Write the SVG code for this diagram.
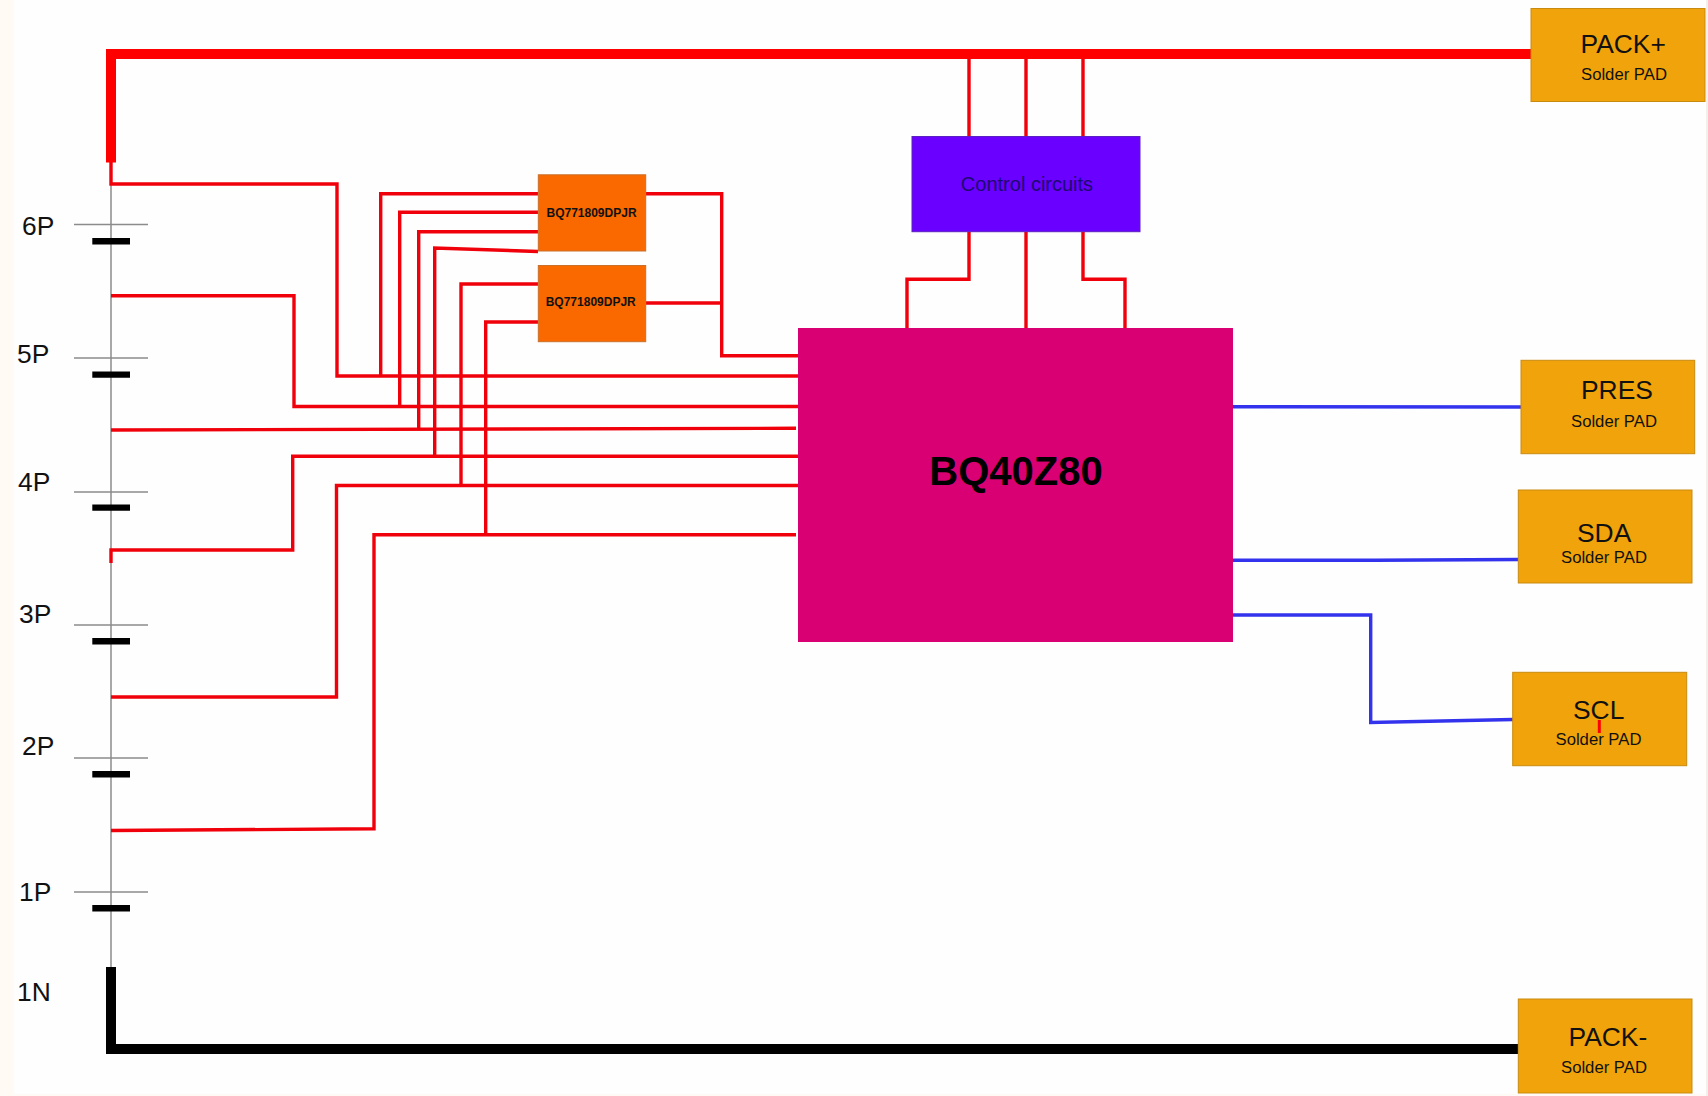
<svg xmlns="http://www.w3.org/2000/svg" width="1708" height="1096" viewBox="0 0 1708 1096">
<style>
text{font-family:"Liberation Sans",Arial,sans-serif;fill:#111}
.w{fill:none;stroke-linejoin:miter;stroke-linecap:butt}
.r{stroke:#f0000a;stroke-width:3.4}
.b{stroke:#3333ee;stroke-width:3.4}
.bus{stroke-width:10}
.cell{stroke:#8c8c8c;stroke-width:1.5;fill:none}
.pad{fill:#f0a30a;stroke:#c98a10;stroke-width:1}
.big{font-size:26.4px}
.sm{font-size:16.7px}
.ic{fill:#fa6800;stroke:#c9702a;stroke-width:1}
.ict{font-size:12px;font-weight:bold}
.lbl{font-size:26.4px}
</style>
<rect width="1708" height="1096" fill="#fefefe"/>
<rect x="0" y="0" width="14" height="1096" fill="#fffaf4"/>
<rect x="1706" y="0" width="2" height="1096" fill="#f5eeea"/>
<rect x="14" y="1094" width="1692" height="2" fill="#fffaf6"/>
<g id="battery">
<path class="cell" d="M111 162V967M74 224.600H148M74 358H148M74 492H148M74 625H148M74 758H148M74 892H148"/>
<path fill="#000" d="M92.300 238H130V244.400H92.300ZM92.300 371.500H130V377.800H92.300ZM92.300 504.500H130V510.800H92.300ZM92.300 638H130V644.500H92.300ZM92.300 771H130V777.500H92.300ZM92.300 905H130V911.500H92.300Z"/>
<text class="lbl" x="22" y="234.500">6P</text>
<text class="lbl" x="17" y="362.500">5P</text>
<text class="lbl" x="18" y="491">4P</text>
<text class="lbl" x="19" y="623">3P</text>
<text class="lbl" x="22" y="755">2P</text>
<text class="lbl" x="19" y="901">1P</text>
<text class="lbl" x="17" y="1001">1N</text>
</g>
<g id="connectors">
<path class="w bus" stroke="#f00" d="M111 162.500V54H1533"/>
<path class="w bus" stroke="#000" d="M111 967V1049H1518"/>
<g class="w r">
<path d="M111 162V184H337V376H798"/>
<path d="M111 295.700H294V406.500H798"/>
<path d="M111 430L796 428.300"/>
<path d="M111 563V550H292.700V456.300H798"/>
<path d="M111 697H336.500V485.500H798"/>
<path d="M111 830.500L374 828.800V534.800H796"/>
<path d="M538 193.800H380.700V376"/>
<path d="M538 212.300H399.700V406.500"/>
<path d="M538 231.700H418.700V429"/>
<path d="M538 251.500L434.700 248V456"/>
<path d="M538 284H461V485"/>
<path d="M538 322H485.700V534"/>
<path d="M646 193.800H721.700V355.700H798"/>
<path d="M646 303H721.700"/>
<path d="M969 59V136M1026 59V136M1083 59V136"/>
<path d="M969 232V279.300H907V328"/>
<path d="M1026 232V328"/>
<path d="M1083 232V279.300H1125V328"/>
</g>
<g class="w b">
<path d="M1233 406.700L1521 407"/>
<path d="M1233 560.300H1375L1518 559.500"/>
<path d="M1233 615H1370.700V722.500L1513 719.500"/>
</g>
</g>
<g id="bq771809-1"><rect class="ic" x="538.300" y="174.800" width="107.400" height="76.200"/><text class="ict" x="546.500" y="216.700">BQ771809DPJR</text></g>
<g id="bq771809-2"><rect class="ic" x="538.300" y="265.500" width="107.400" height="76.200"/><text class="ict" x="545.700" y="305.700">BQ771809DPJR</text></g>
<g id="control"><rect x="912" y="136.500" width="228" height="95.200" fill="#6a00ff" stroke="#5a20c0" stroke-width="1"/><text x="1027" y="191" text-anchor="middle" font-size="20" style="fill:#1c0a70">Control circuits</text></g>
<g id="bq40z80"><rect x="798" y="328" width="435" height="314" fill="#d80073"/><text x="1016" y="485" text-anchor="middle" font-size="40" font-weight="bold" style="fill:#000">BQ40Z80</text></g>
<g id="pack-plus"><rect class="pad" x="1531" y="8.500" width="174" height="93"/><text class="big" x="1580.500" y="53.300">PACK+</text><text class="sm" x="1581" y="80.300">Solder PAD</text></g>
<g id="pres"><rect class="pad" x="1521" y="360.300" width="173.700" height="93.400"/><text class="big" x="1581" y="399.300">PRES</text><text class="sm" x="1571" y="427">Solder PAD</text></g>
<g id="sda"><rect class="pad" x="1518.300" y="490" width="173.700" height="93"/><text class="big" x="1577" y="541.700">SDA</text><text class="sm" x="1561" y="562.700">Solder PAD</text></g>
<g id="scl"><rect class="pad" x="1512.700" y="672.300" width="174" height="93.400"/><text class="big" x="1573" y="718.800">SCL</text><path d="M1599.300 720V733" stroke="#f00" stroke-width="3"/><text class="sm" x="1555.500" y="745.300">Solder PAD</text></g>
<g id="pack-minus"><rect class="pad" x="1518.300" y="999" width="173.700" height="94"/><text class="big" x="1568.500" y="1046">PACK-</text><text class="sm" x="1561" y="1072.700">Solder PAD</text></g>
</svg>
